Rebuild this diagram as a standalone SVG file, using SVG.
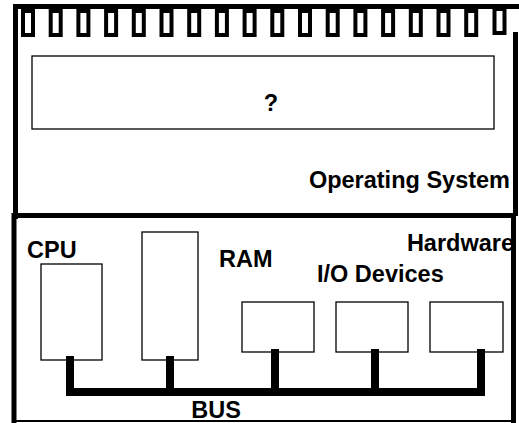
<svg xmlns="http://www.w3.org/2000/svg" width="519" height="423" viewBox="0 0 519 423">
  <style>
    .frame { fill: none; stroke: #000; stroke-width: 5; }
    .tooth { fill: #fff; stroke: #000; stroke-width: 4; }
    .box { fill: #fff; stroke: #000; stroke-width: 1.3; }
    .bus { fill: none; stroke: #000; stroke-width: 8; stroke-linejoin: miter; }
    .label { font-family: "Liberation Sans", Arial, sans-serif; font-weight: bold; font-size: 23.5px; fill: #000; }
  </style>
  <defs>
    <rect id="toothShape" x="0" y="0" width="10" height="24" class="tooth"/>
  </defs>
  <rect width="519" height="423" fill="#fff"/>

  <!-- Operating system layer -->
  <g id="operating-system">
    <path class="frame" d="M15.5,219 V6.5 H519"/>
    <path class="frame" d="M515.5,32 V216"/>
    <g id="comb">
      <use href="#toothShape" x="23" y="11"/>
      <use href="#toothShape" x="50.7" y="11"/>
      <use href="#toothShape" x="78.4" y="11"/>
      <use href="#toothShape" x="106.1" y="11"/>
      <use href="#toothShape" x="133.8" y="11"/>
      <use href="#toothShape" x="161.5" y="11"/>
      <use href="#toothShape" x="189.2" y="11"/>
      <use href="#toothShape" x="216.9" y="11"/>
      <use href="#toothShape" x="244.6" y="11"/>
      <use href="#toothShape" x="272.3" y="11"/>
      <use href="#toothShape" x="300" y="11"/>
      <use href="#toothShape" x="327.7" y="11"/>
      <use href="#toothShape" x="355.4" y="11"/>
      <use href="#toothShape" x="383.1" y="11"/>
      <use href="#toothShape" x="410.8" y="11"/>
      <use href="#toothShape" x="438.5" y="11"/>
      <use href="#toothShape" x="466.2" y="11"/>
      <use href="#toothShape" x="494.5" y="9"/>
    </g>
    <text class="label" x="510" y="188" text-anchor="end">Operating System</text>
  </g>

  <g id="unknown-layer">
    <rect class="box" x="32" y="56" width="462" height="73"/>
    <text class="label" x="271" y="111" text-anchor="middle">?</text>
  </g>

  <!-- Hardware layer -->
  <g id="hardware">
    <path class="frame" d="M14,423 V215.5 H513.5 V423"/>
    <line x1="12" y1="421" x2="516" y2="421" stroke="#000" stroke-width="2.2"/>
    <text class="label" x="514" y="251" text-anchor="end">Hardware</text>
  </g>

  <g id="cpu">
    <rect class="box" x="41" y="264" width="61" height="96"/>
    <text class="label" x="27" y="258">CPU</text>
  </g>

  <g id="ram">
    <rect class="box" x="142" y="232" width="56" height="128"/>
    <text class="label" x="219" y="267">RAM</text>
  </g>

  <g id="io-devices">
    <rect class="box" x="242" y="302" width="72" height="50"/>
    <rect class="box" x="336" y="302" width="72" height="50"/>
    <rect class="box" x="430" y="302" width="73" height="50"/>
    <text class="label" x="317" y="282">I/O Devices</text>
  </g>

  <!-- System bus -->
  <g id="connectors">
    <path class="bus" d="M70,356 V392 H481 V349"/>
    <path class="bus" d="M170,356 V392"/>
    <path class="bus" d="M275,349 V392"/>
    <path class="bus" d="M375,349 V392"/>
  </g>
  <g id="bus-label">
    <text class="label" x="216" y="418" text-anchor="middle">BUS</text>
  </g>
</svg>
